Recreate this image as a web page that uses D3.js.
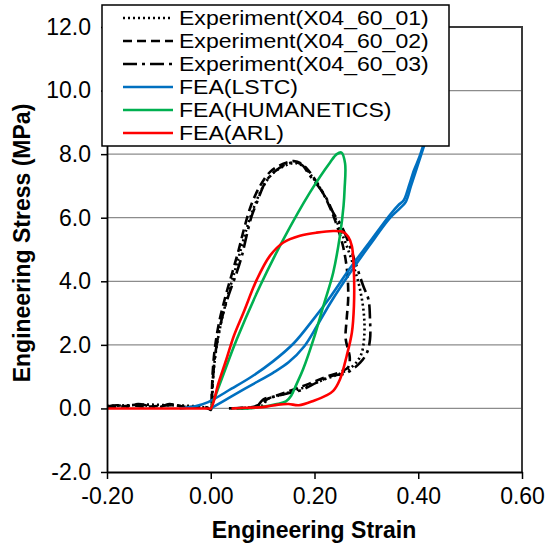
<!DOCTYPE html>
<html><head><meta charset="utf-8">
<script src="https://cdn.jsdelivr.net/npm/d3@7"></script>
<style>body{margin:0;background:#fff}svg{display:block}text{font-family:"Liberation Sans",Arial,sans-serif}</style>
</head><body>
<svg id="c" width="547" height="550"></svg>
<script>
const xTicks = [-0.2, 0.0, 0.2, 0.4, 0.6];
const xTickLabels = ["-0.20", "0.00", "0.20", "0.40", "0.60"];
const yTicks = [-2, 0, 2, 4, 6, 8, 10, 12];
const yTickLabels = ["-2.0", "0.0", "2.0", "4.0", "6.0", "8.0", "10.0", "12.0"];
const seriesNames = ["Experiment(X04_60_01)", "Experiment(X04_60_02)", "Experiment(X04_60_03)", "FEA(LSTC)", "FEA(HUMANETICS)", "FEA(ARL)"];

const exp01 = [[-0.2,0.08],[-0.16,0.1],[-0.12,0.12],[-0.08,0.1],[-0.04,0.08],[-0.01,0.03],[0,0.0],[0.004,0.9],[0.01,1.8],[0.02,2.7],[0.032,3.5],[0.046,4.3],[0.058,5.0],[0.07,5.7],[0.085,6.4],[0.1,6.95],[0.12,7.4],[0.145,7.65],[0.163,7.72],[0.18,7.6],[0.195,7.3],[0.212,6.9],[0.23,6.35],[0.245,5.8],[0.26,5.2],[0.275,4.5],[0.287,3.8],[0.295,3.0],[0.296,2.3],[0.29,1.7],[0.275,1.35],[0.25,1.1],[0.22,0.92],[0.19,0.72],[0.16,0.55],[0.13,0.4],[0.11,0.3],[0.1,0.1],[0.08,0.02],[0.05,0.0]];
const exp02 = [[-0.2,0.04],[-0.17,0.06],[-0.15,0.1],[-0.13,0.06],[-0.1,0.08],[-0.07,0.1],[-0.05,0.05],[-0.02,0.03],[-0.005,0.0],[0.0,-0.05],[0.002,0.5],[0.004,1.2],[0.008,1.9],[0.016,2.7],[0.028,3.5],[0.042,4.3],[0.054,5.0],[0.065,5.7],[0.078,6.4],[0.095,7.0],[0.115,7.45],[0.14,7.7],[0.16,7.78],[0.175,7.7],[0.19,7.45],[0.205,7.1],[0.222,6.6],[0.24,5.9],[0.255,5.1],[0.263,4.3],[0.265,3.5],[0.262,2.8],[0.26,2.2],[0.268,1.6],[0.265,1.3],[0.25,1.15],[0.22,0.98],[0.19,0.78],[0.16,0.6],[0.13,0.42],[0.11,0.3],[0.095,0.12],[0.07,0.02],[0.04,0.0]];
const exp03 = [[-0.2,0.06],[-0.18,0.1],[-0.16,0.05],[-0.14,0.14],[-0.12,0.08],[-0.1,0.04],[-0.08,0.14],[-0.06,0.08],[-0.04,0.04],[-0.02,0.06],[-0.005,0.03],[0.0,0.02],[0.003,0.6],[0.006,1.3],[0.011,1.96],[0.021,2.8],[0.034,3.54],[0.05,4.27],[0.06,4.8],[0.069,5.43],[0.079,6.06],[0.089,6.48],[0.105,7.11],[0.121,7.42],[0.146,7.69],[0.166,7.74],[0.178,7.63],[0.191,7.32],[0.207,7.0],[0.224,6.58],[0.236,6.16],[0.252,5.74],[0.268,5.11],[0.281,4.48],[0.294,3.85],[0.304,3.43],[0.307,2.8],[0.307,2.17],[0.301,1.75],[0.288,1.44],[0.262,1.12],[0.233,1.02],[0.204,0.81],[0.178,0.6],[0.153,0.49],[0.127,0.39],[0.101,0.28],[0.089,0.07],[0.06,0.02],[0.03,0.0]];
const lstcA = [[-0.06,0.0],[-0.03,0.07],[-0.005,0.2],[0.04,0.62],[0.077,0.98],[0.12,1.48],[0.16,2.05],[0.2,2.85],[0.23,3.5],[0.268,4.4],[0.307,5.25],[0.346,6.1],[0.362,6.4],[0.372,6.55],[0.382,7.0],[0.392,7.5],[0.402,7.9],[0.412,8.4]];
const lstcB = [[0.0,0.0],[0.04,0.38],[0.08,0.75],[0.12,1.12],[0.15,1.45],[0.18,1.95],[0.205,2.6],[0.23,3.3],[0.268,4.25],[0.307,5.15],[0.346,6.0],[0.365,6.3],[0.376,6.5],[0.386,7.0],[0.396,7.5],[0.406,8.0],[0.414,8.4]];
const humanetics = [[0.0,0.0],[0.025,1.1],[0.05,2.17],[0.095,3.85],[0.14,5.32],[0.191,6.79],[0.23,7.74],[0.243,8.0],[0.252,8.05],[0.259,7.7],[0.258,6.9],[0.256,6.37],[0.249,5.43],[0.236,4.27],[0.217,3.22],[0.198,2.17],[0.178,1.23],[0.165,0.75],[0.155,0.4],[0.145,0.22],[0.125,0.13],[0.1,0.05],[0.07,0.0],[0.05,0.0]];
const arl = [[-0.2,0],[-0.1,0],[-0.02,0.0],[-0.005,0.0],[0.0,0.0],[0.015,0.8],[0.03,1.54],[0.045,2.3],[0.063,3.01],[0.089,4.06],[0.114,4.8],[0.14,5.22],[0.172,5.43],[0.204,5.53],[0.236,5.58],[0.255,5.55],[0.265,5.4],[0.272,5.11],[0.276,4.27],[0.276,3.22],[0.272,2.38],[0.262,1.65],[0.249,0.91],[0.236,0.55],[0.222,0.4],[0.2,0.25],[0.17,0.1],[0.15,0.14],[0.13,0.12],[0.1,0.04],[0.07,0.02],[0.04,0.0]];

const svg = d3.select("#c");
const x = d3.scaleLinear().domain([-0.2, 0.6]).range([107, 522]);
const y = d3.scaleLinear().domain([-2, 12]).range([472, 27]);

svg.append("g").selectAll("line").data(yTicks.filter(d => d > -2 && d < 12)).join("line")
  .attr("x1", x(-0.2)).attr("x2", x(0.6)).attr("y1", d => y(d)).attr("y2", d => y(d))
  .attr("stroke", "#8c8c8c").attr("stroke-width", 1.3);

svg.append("path").attr("d", `M${x(-0.2)},${y(12)}H${x(0.6)}V${y(-2)}`)
  .attr("fill", "none").attr("stroke", "#3a3a3a").attr("stroke-width", 2);

const line = d3.line().x(d => x(d[0])).y(d => y(d[1])).curve(d3.curveCatmullRom.alpha(0.5));
svg.append("defs").append("clipPath").attr("id", "pc").append("rect")
  .attr("x", x(-0.2)).attr("y", y(12)).attr("width", x(0.6) - x(-0.2)).attr("height", y(-2) - y(12));
const plot = svg.append("g").attr("clip-path", "url(#pc)");

const styles = [
  {data: [exp01], color: "#000", dash: "2,3"},
  {data: [exp02], color: "#000", dash: "9,5"},
  {data: [exp03], color: "#000", dash: "14,5,3,5"},
  {data: [lstcA, lstcB], color: "#0070C0", dash: null},
  {data: [humanetics], color: "#00B050", dash: null},
  {data: [arl], color: "#FF0000", dash: null}
];
styles.forEach(s => {
  s.data.forEach(dd => {
    plot.append("path").attr("d", line(dd)).attr("fill", "none")
      .attr("stroke", s.color).attr("stroke-width", 2.6)
      .attr("stroke-dasharray", s.dash).attr("stroke-linejoin", "round");
  });
});

const xAxis = d3.axisBottom(x).tickValues(xTicks).tickFormat((d, i) => xTickLabels[i]).tickSize(7).tickSizeOuter(0).tickPadding(9);
const gx = svg.append("g").attr("transform", `translate(0,${y(-2)})`).call(xAxis);
const yAxis = d3.axisLeft(y).tickValues(yTicks).tickFormat((d, i) => yTickLabels[i]).tickSize(6).tickSizeOuter(0).tickPadding(10);
const gy = svg.append("g").attr("transform", `translate(${x(-0.2)},0)`).call(yAxis);
[gx, gy].forEach(g => {
  g.select(".domain").attr("stroke", "#000").attr("stroke-width", 1.8);
  g.selectAll(".tick line").attr("stroke", "#000").attr("stroke-width", 1.5);
  g.selectAll(".tick text").attr("fill", "#000").style("font-size", "23px").style("font-family", '"Liberation Sans",Arial,sans-serif');
});

svg.append("text").attr("x", 314).attr("y", 538).attr("text-anchor", "middle")
  .style("font-size", "23px").style("font-weight", "bold").text("Engineering Strain");
svg.append("text").attr("transform", `translate(30,243) rotate(-90)`).attr("text-anchor", "middle")
  .style("font-size", "23px").style("font-weight", "bold").text("Engineering Stress (MPa)");

const lg = svg.append("g");
lg.append("rect").attr("x", 102).attr("y", 5).attr("width", 347).attr("height", 141)
  .attr("fill", "#fff").attr("stroke", "#000").attr("stroke-width", 1.5);
seriesNames.forEach((n, i) => {
  const cy = 18 + i * 23;
  const s = styles[i];
  lg.append("line").attr("x1", 123).attr("x2", 173).attr("y1", cy).attr("y2", cy)
    .attr("stroke", s.color).attr("stroke-width", 2.6).attr("stroke-dasharray", s.dash);
  lg.append("text").attr("transform", `translate(179,${cy}) scale(1.13,1)`).attr("dy", "0.36em")
    .style("font-size", "20.4px").text(n);
});
</script>
</body></html>
